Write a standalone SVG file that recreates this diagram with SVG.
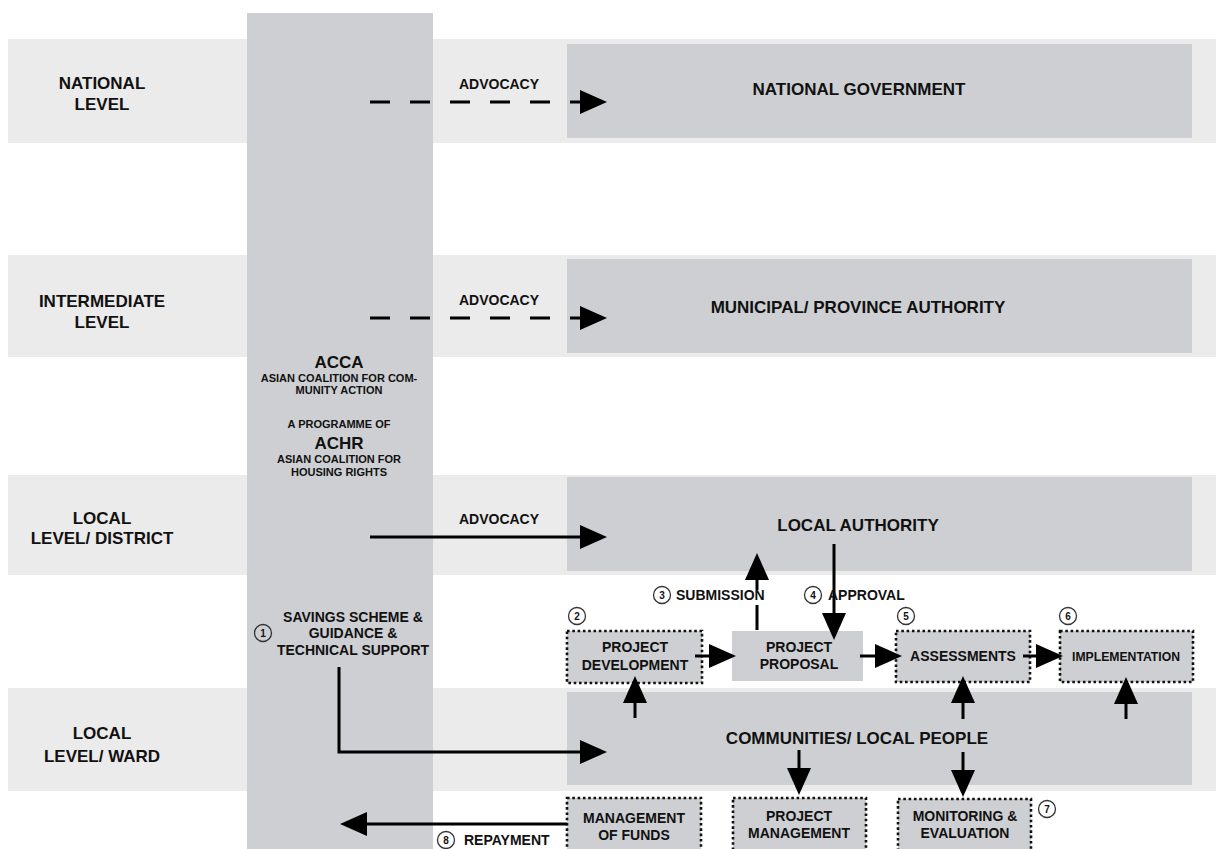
<svg xmlns="http://www.w3.org/2000/svg" width="1216" height="849" viewBox="0 0 1216 849">
<style>
.band{fill:#ebebeb}
.col{fill:#cdcfd2}
.box{fill:#cdcfd2}
.dot{fill:#cdcfd2;stroke:#111;stroke-width:2.6;stroke-dasharray:2.6 2.7}
.t{font-family:"Liberation Sans",Arial,sans-serif;font-weight:bold;fill:#111;text-anchor:middle}
.lv{font-size:17px}
.big{font-size:17px}
.m{font-size:14px}
.s{font-size:11px}
.st{text-anchor:start}
.num{font-family:"Liberation Sans",Arial,sans-serif;font-weight:bold;font-size:10px;fill:#111;text-anchor:middle}
.circ{fill:none;stroke:#333;stroke-width:1.3}
.ln{fill:none;stroke:#000;stroke-width:3}
.dash{stroke-dasharray:20 20}
</style>
<defs>
<marker id="ah" markerUnits="userSpaceOnUse" markerWidth="27" markerHeight="24" refX="4" refY="12" orient="auto" viewBox="0 0 27 24">
<path d="M0,0 L27,12 L0,24 z" fill="#000"/>
</marker>
</defs>
<rect width="1216" height="849" fill="#fff"/>
<g id="bands">
<rect class="band" x="8" y="39" width="1208" height="104"/>
<rect class="band" x="8" y="255" width="1208" height="102"/>
<rect class="band" x="8" y="475" width="1208" height="100"/>
<rect class="band" x="8" y="688" width="1208" height="103"/>
</g>
<g id="level-labels">
<text class="t lv" x="102" y="89">NATIONAL</text>
<text class="t lv" x="102" y="110">LEVEL</text>
<text class="t lv" x="102" y="307">INTERMEDIATE</text>
<text class="t lv" x="102" y="328">LEVEL</text>
<text class="t lv" x="102" y="524">LOCAL</text>
<text class="t lv" x="102" y="544">LEVEL/ DISTRICT</text>
<text class="t lv" x="102" y="739">LOCAL</text>
<text class="t lv" x="102" y="762">LEVEL/ WARD</text>
</g>
<g id="acca">
<rect class="col" x="247" y="13" width="186" height="836"/>
<text class="t big" x="339" y="368">ACCA</text>
<text class="t s" x="339" y="382">ASIAN COALITION FOR COM-</text>
<text class="t s" x="339" y="394">MUNITY ACTION</text>
<text class="t s" x="339" y="428">A PROGRAMME OF</text>
<text class="t big" x="339" y="449">ACHR</text>
<text class="t s" x="339" y="463">ASIAN COALITION FOR</text>
<text class="t s" x="339" y="476">HOUSING RIGHTS</text>
</g>
<g id="savings">
<circle class="circ" cx="263" cy="633" r="8.5"/>
<text class="num" x="263" y="637">1</text>
<text class="t m" x="353" y="622">SAVINGS SCHEME &amp;</text>
<text class="t m" x="353" y="638">GUIDANCE &amp;</text>
<text class="t m" x="353" y="655">TECHNICAL SUPPORT</text>
</g>
<g id="national-government">
<rect class="box" x="567" y="44" width="625" height="94"/>
<text class="t big" x="859" y="95">NATIONAL GOVERNMENT</text>
</g>
<g id="municipal">
<rect class="box" x="567" y="259" width="625" height="94"/>
<text class="t big" x="858" y="313">MUNICIPAL/ PROVINCE AUTHORITY</text>
</g>
<g id="local-authority">
<rect class="box" x="567" y="477" width="625" height="94"/>
<text class="t big" x="858" y="531">LOCAL AUTHORITY</text>
</g>
<g id="communities">
<rect class="box" x="567" y="692" width="625" height="93"/>
<text class="t big" x="857" y="744">COMMUNITIES/ LOCAL PEOPLE</text>
</g>
<g id="project-development">
<rect class="dot" x="567" y="631" width="135" height="52"/>
<text class="t m" x="635" y="652">PROJECT</text>
<text class="t m" x="635" y="670">DEVELOPMENT</text>
<circle class="circ" cx="577" cy="616" r="8.5"/>
<text class="num" x="577" y="620">2</text>
</g>
<g id="project-proposal">
<rect class="box" x="732" y="631" width="131" height="50"/>
<text class="t m" x="799" y="652">PROJECT</text>
<text class="t m" x="799" y="669">PROPOSAL</text>
</g>
<g id="assessments">
<rect class="dot" x="896" y="631" width="134" height="51"/>
<text class="t m" x="963" y="661">ASSESSMENTS</text>
<circle class="circ" cx="906" cy="616" r="8.5"/>
<text class="num" x="906" y="620">5</text>
</g>
<g id="implementation">
<rect class="dot" x="1060" y="631" width="133" height="51"/>
<text class="t" style="font-size:12.2px" x="1126" y="661">IMPLEMENTATION</text>
<circle class="circ" cx="1068" cy="616" r="8.5"/>
<text class="num" x="1068" y="620">6</text>
</g>
<g id="management-of-funds">
<rect class="dot" x="567" y="798" width="134" height="60"/>
<text class="t m" x="634" y="823">MANAGEMENT</text>
<text class="t m" x="634" y="840">OF FUNDS</text>
</g>
<g id="project-management">
<rect class="dot" x="733" y="798" width="133" height="60"/>
<text class="t m" x="799" y="821">PROJECT</text>
<text class="t m" x="799" y="838">MANAGEMENT</text>
</g>
<g id="monitoring">
<rect class="dot" x="898" y="799" width="133" height="60"/>
<text class="t m" x="965" y="821">MONITORING &amp;</text>
<text class="t m" x="965" y="838">EVALUATION</text>
<circle class="circ" cx="1047" cy="809" r="8.5"/>
<text class="num" x="1047" y="813">7</text>
</g>
<g id="connectors">
<path class="ln dash" d="M370,102 H584" marker-end="url(#ah)"/>
<path class="ln dash" d="M370,318 H584" marker-end="url(#ah)"/>
<path class="ln" d="M370,537 H584" marker-end="url(#ah)"/>
<path class="ln" d="M339,667 V752 H584" marker-end="url(#ah)"/>
<path class="ln" d="M635,718 V699" marker-end="url(#ah)"/>
<path class="ln" d="M695,656 H713" marker-end="url(#ah)"/>
<path class="ln" d="M860,656 H879" marker-end="url(#ah)"/>
<path class="ln" d="M1023,656 H1040" marker-end="url(#ah)"/>
<path class="ln" d="M757,630 V605"/>
<path class="ln" d="M757,590 V576" marker-end="url(#ah)"/>
<path class="ln" d="M834,544 V617" marker-end="url(#ah)"/>
<path class="ln" d="M963,719 V699" marker-end="url(#ah)"/>
<path class="ln" d="M1126,719 V700" marker-end="url(#ah)"/>
<path class="ln" d="M799,750 V772" marker-end="url(#ah)"/>
<path class="ln" d="M963,752 V774" marker-end="url(#ah)"/>
<path class="ln" d="M567,824 H363" marker-end="url(#ah)"/>
</g>
<g id="connector-labels">
<text class="t m" x="499" y="89">ADVOCACY</text>
<text class="t m" x="499" y="305">ADVOCACY</text>
<text class="t m" x="499" y="524">ADVOCACY</text>
<circle class="circ" cx="662" cy="595" r="8.5"/>
<text class="num" x="662" y="599">3</text>
<text class="t m st" x="676" y="600">SUBMISSION</text>
<circle class="circ" cx="813" cy="595" r="8.5"/>
<text class="num" x="813" y="599">4</text>
<text class="t m st" x="828" y="600">APPROVAL</text>
<circle class="circ" cx="446" cy="840" r="8.5"/>
<text class="num" x="446" y="844">8</text>
<text class="t m st" x="464" y="845">REPAYMENT</text>
</g>
</svg>
